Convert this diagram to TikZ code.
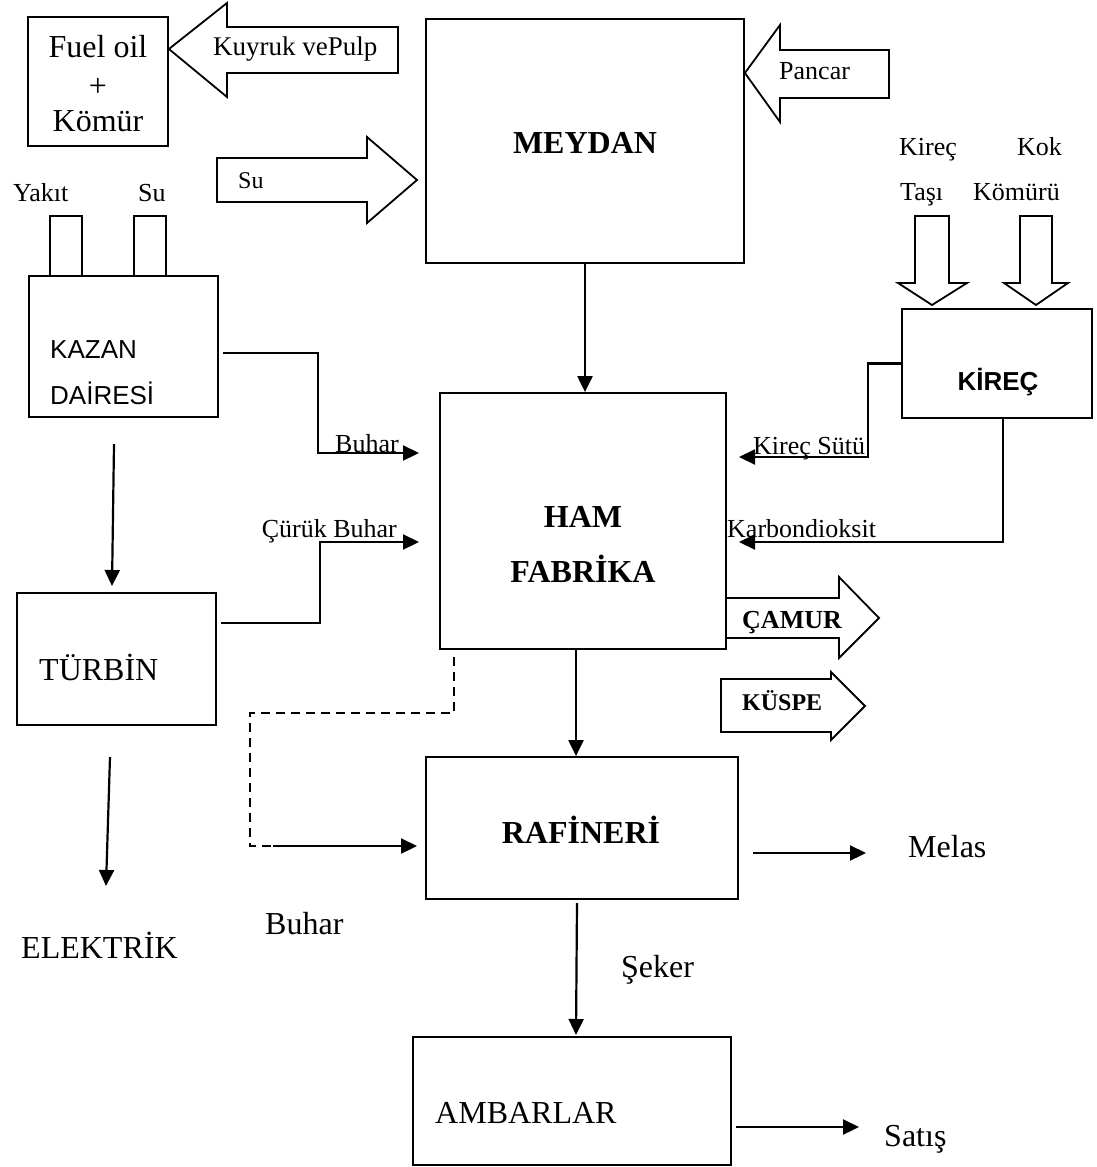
\documentclass[tikz,border=0pt]{standalone}
\usepackage{fontspec}
\setmainfont{Liberation Serif}
\newfontfamily\arialf{Liberation Sans}
\usetikzlibrary{arrows.meta}
\begin{document}
\begin{tikzpicture}[x=1pt,y=-1pt,
  box/.style={draw, line width=1.8pt, inner sep=0pt},
  conn/.style={line width=2.2pt},
  arr/.style={conn, -{Triangle[length=16pt,width=15pt]}},
  big/.style={font=\fontsize{32}{38}\selectfont, inner sep=0pt},
  bigb/.style={font=\fontsize{32}{38}\selectfont\bfseries, inner sep=0pt},
  small/.style={font=\fontsize{26}{31}\selectfont, inner sep=0pt},
  blk/.style={draw, line width=1.8pt, line join=miter}]
\useasboundingbox (0,0) rectangle (1097,1167);

% ---------- boxes ----------
\node[box, minimum width=140pt, minimum height=129pt] (fuel) at (98,81.5) {};
\node[box, minimum width=189pt, minimum height=141pt] (kazan) at (123.5,346.5) {};
\node[box, minimum width=199pt, minimum height=132pt] (turbin) at (116.5,659) {};
\node[box, minimum width=318pt, minimum height=244pt] (meydan) at (585,141) {};
\node[box, minimum width=286pt, minimum height=256pt] (ham) at (583,521) {};
\node[box, minimum width=190pt, minimum height=109pt] (kirec) at (997,363.5) {};
\node[box, minimum width=312pt, minimum height=142pt] (raf) at (582,828) {};
\node[box, minimum width=318pt, minimum height=128pt] (amb) at (572,1101) {};

% ---------- box texts ----------
\node[big, anchor=base] (fuelt1) at (98,57) {Fuel oil};
\node[big, anchor=base] (fuelt2) at (98,96) {+};
\node[big, anchor=base] (fuelt3) at (98,131) {Kömür};
\node[small, font=\fontsize{26}{31}\selectfont\arialf, anchor=base west] (kazt1) at (50,358) {KAZAN};
\node[small, font=\fontsize{26}{31}\selectfont\arialf, anchor=base west] (kazt2) at (50,404) {DAİRESİ};
\node[big, anchor=base west] (turt) at (39,680) {TÜRBİN};
\node[bigb, anchor=base] (meyt) at (585,153) {MEYDAN};
\node[bigb, anchor=base] (hamt1) at (583,527) {HAM};
\node[bigb, anchor=base] (hamt2) at (583,582) {FABRİKA};
\node[inner sep=0pt, font=\fontsize{26}{31}\selectfont\arialf\bfseries, anchor=base] (kirt) at (998,390) {KİREÇ};
\node[bigb, anchor=base] (raft) at (581,843) {RAFİNERİ};
\node[big, anchor=base west] (ambt) at (435,1123) {AMBARLAR};

% ---------- block arrows ----------
\draw[blk] (fuel.east |- 0,49) -- (227,3) -- (227,27) -- (398,27) -- (398,73) -- (227,73) -- (227,97) -- cycle;
\node[small, font=\fontsize{27}{32}\selectfont, anchor=base west] (kuyt) at (213,55) {Kuyruk vePulp};

\draw[blk] (217,158) -- (367,158) -- (367,137) -- (417,180) -- (367,223) -- (367,202) -- (217,202) -- cycle;
\node[small, font=\fontsize{24}{29}\selectfont, anchor=base west] (sut) at (238,188) {Su};

\draw[blk] (meydan.east |- 0,73) -- (780,25) -- (780,50) -- (889,50) -- (889,98) -- (780,98) -- (780,122) -- cycle;
\node[small, anchor=base west] (pant) at (779,79) {Pancar};

\draw[blk] (915,216) -- (949,216) -- (949,283) -- (967,283) -- (932,305) -- (898,283) -- (915,283) -- cycle;
\draw[blk] (1020,216) -- (1052,216) -- (1052,283) -- (1068,283) -- (1036,305) -- (1004,283) -- (1020,283) -- cycle;
\node[small, anchor=base west] (kt1) at (899,155) {Kireç};
\node[small, anchor=base west] (kt2) at (1017,155) {Kok};
\node[small, anchor=base west] (kt3) at (900,200) {Taşı};
\node[small, anchor=base west] (kt4) at (973,200) {Kömürü};

\draw[blk] (ham.east |- 0,598) -- (839,598) -- (839,577) -- (879,618) -- (839,658) -- (839,638) -- (ham.east |- 0,638);
\node[inner sep=0pt, font=\fontsize{26}{31}\selectfont\bfseries, anchor=base west] (camt) at (742,628) {ÇAMUR};

\draw[blk] (721,679) -- (831,679) -- (831,672) -- (865,706) -- (831,740) -- (831,732) -- (721,732) -- cycle;
\node[inner sep=0pt, font=\fontsize{24}{29}\selectfont\bfseries, anchor=base west] (kust) at (742,710) {KÜSPE};

% ---------- tubes on KAZAN ----------
\draw[line width=1.8pt] (50,276) -- (50,216) -- (82,216) -- (82,276);
\draw[line width=1.8pt] (134,276) -- (134,216) -- (166,216) -- (166,276);
\node[small, anchor=base west] (yakt) at (13,201) {Yakıt};
\node[small, anchor=base west] (su2t) at (138,201) {Su};

% ---------- connectors ----------
\coordinate (kz0) at (223,353);
\coordinate (kz1) at (419,453);
\draw[arr] (kz0) -- (318,353) -- (318,453) -- (kz1);
\node[small, anchor=base west] (buh1) at (335,452) {Buhar};

\coordinate (tb0) at (221,623);
\coordinate (tb1) at (419,542);
\draw[arr] (tb0) -- (320,623) -- (320,542) -- (tb1);
\node[small, anchor=base east] (cbt) at (397,537) {Çürük Buhar};

\coordinate (kd0) at (114,444);
\coordinate (kd1) at (112,586);
\draw[arr] (kd0) -- (kd1);

\coordinate (td0) at (110,757);
\coordinate (td1) at (106,886);
\draw[arr] (td0) -- (td1);
\node[big, anchor=base west] (elt) at (21,958) {ELEKTRİK};

\draw[arr] (meydan.south) -- (meydan.south |- ham.north);

\coordinate (ks1) at (739,457);
\draw[arr] (kirec.west) -- (868,363.5) -- (868,457) -- (ks1);
\node[small, anchor=base west] (kst) at (753,454) {Kireç Sütü};

\coordinate (kb1) at (739,542);
\draw[arr] ([xshift=6pt]kirec.south) -- (1003,542) -- (kb1);
\node[small, anchor=base west] (kbt) at (727,537) {Karbondioksit};

\coordinate (ds0) at (454,657);
\coordinate (ds1) at (273,846);
\coordinate (ds2) at (417,846);
\draw[line width=1.5pt, dash pattern=on 9pt off 6pt] (ds0) -- (454,713) -- (250,713) -- (250,846) -- (ds1);
\draw[arr] (ds1) -- (ds2);
\node[big, anchor=base west] (buh2) at (265,934) {Buhar};

\draw[arr] ([xshift=-7pt]ham.south) -- ([xshift=-7pt]ham.south |- raf.north);

\coordinate (ml0) at (753,853);
\coordinate (ml1) at (866,853);
\draw[arr] (ml0) -- (ml1);
\node[big, anchor=base west] (melt) at (908,857) {Melas};

\coordinate (rf0) at (577,903);
\coordinate (rf1) at (576,1035);
\draw[arr] (rf0) -- (rf1);
\node[big, anchor=base west] (sekt) at (621,977) {Şeker};

\coordinate (st0) at (736,1127);
\coordinate (st1) at (859,1127);
\draw[arr] (st0) -- (st1);
\node[big, anchor=base west] (satt) at (884,1146) {Satış};
\end{tikzpicture}
\end{document}
